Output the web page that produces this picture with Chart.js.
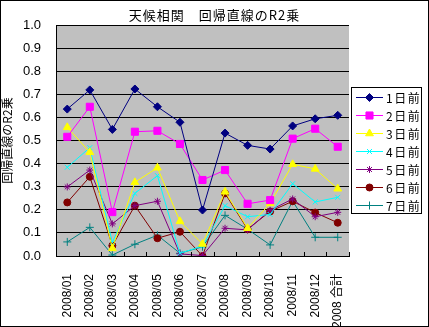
<!DOCTYPE html>
<html>
<head>
<meta charset="utf-8">
<script src="https://cdn.jsdelivr.net/npm/chart.js@4/dist/chart.umd.min.js"></script>
<style>
  body { margin: 0; background: #fff; }
  #wrap { width: 429px; height: 327px; }
</style>
</head>
<body>
<div id="wrap"><canvas id="grafica" width="429" height="327"></canvas></div>
<script>
const titulo = '天候相関　回帰直線のR2乗';
const ejeY = '回帰直線のR2乗';
const meses = ['2008/01','2008/02','2008/03','2008/04','2008/05','2008/06','2008/07',
               '2008/08','2008/09','2008/10','2008/11','2008/12','2008 合計'];
const nombres = ['1日前','2日前','3日前','4日前','5日前','6日前','7日前'];

const dia1 = [0.636,0.719,0.548,0.723,0.646,0.579,0.199,0.532,0.479,0.463,0.563,0.594,0.609];
const dia2 = [0.516,0.646,0.190,0.538,0.542,0.485,0.329,0.372,0.226,0.242,0.508,0.551,0.473];
const dia3 = [0.557,0.449,0.033,0.319,0.382,0.150,0.052,0.278,0.120,0.228,0.397,0.377,0.291];
const dia4 = [0.384,0.469,0.059,0.271,0.348,0.012,0.043,0.218,0.170,0.180,0.313,0.234,0.254];
const dia5 = [0.299,0.372,0.139,0.218,0.237,0.009,0.002,0.120,0.113,0.198,0.247,0.170,0.189];
const dia6 = [0.232,0.343,0.045,0.218,0.077,0.105,0.000,0.271,0.116,0.193,0.237,0.188,0.144];
const dia7 = [0.061,0.124,0.004,0.051,0.090,0.012,0.040,0.176,0.116,0.048,0.238,0.081,0.081];

const colores = ['#000080','#FF00FF','#FFFF00','#00FFFF','#800080','#800000','#008080'];
const marcas = ['rectRot','rect','triangle','crossRot','star','circle','cross'];
const tamanos = [4, 5, 4.5, 3.5, 3.5, 3.5, 4];
const series = [dia1, dia2, dia3, dia4, dia5, dia6, dia7];

const fuente = "'Noto Sans CJK JP', 'DejaVu Sans', sans-serif";

const datasets = series.map((d, i) => ({
  label: nombres[i],
  data: d,
  borderColor: colores[i],
  backgroundColor: colores[i],
  borderWidth: 1,
  pointStyle: marcas[i],
  pointRadius: tamanos[i],
  pointBorderWidth: 1,
  pointBorderColor: colores[i],
  pointBackgroundColor: colores[i],
  tension: 0
}));

// fondo gris, marcas del eje x, titulo, leyenda y borde exterior
const extras = {
  id: 'extras',
  beforeDraw(chart) {
    const c = chart.ctx, a = chart.chartArea;
    c.save();
    c.fillStyle = '#fff';
    c.fillRect(0, 0, chart.width, chart.height);
    c.fillStyle = '#C0C0C0';
    c.fillRect(a.left, a.top, a.right - a.left, a.bottom - a.top);
    c.restore();
  },
  afterDraw(chart) {
    const c = chart.ctx, a = chart.chartArea;
    c.save();
    // marcas entre categorias
    c.strokeStyle = '#000';
    c.lineWidth = 1;
    const w = (a.right - a.left) / meses.length;
    for (let i = 1; i <= meses.length; i++) {
      const px = Math.round(a.left + i * w) + 0.5;
      c.beginPath();
      c.moveTo(px, a.bottom);
      c.lineTo(px, a.bottom - 4);
      c.stroke();
    }
    // titulo
    c.fillStyle = '#000';
    c.font = '13px ' + fuente;
    c.letterSpacing = '1px';
    c.textAlign = 'center';
    c.textBaseline = 'middle';
    c.fillText(titulo, chart.width / 2, 15);
    // leyenda
    const lx = 351, ly = 87, lw = 70, lh = 126;
    c.fillStyle = '#fff';
    c.fillRect(lx, ly, lw, lh);
    c.strokeStyle = '#000';
    c.strokeRect(lx + 0.5, ly + 0.5, lw, lh);
    c.font = '12px ' + fuente;
    c.letterSpacing = '1.5px';
    c.textAlign = 'left';
    datasets.forEach((ds, i) => {
      const yy = ly + 10.5 + i * 18;
      c.strokeStyle = ds.borderColor;
      c.fillStyle = ds.borderColor;
      c.beginPath();
      c.moveTo(356, yy);
      c.lineTo(383, yy);
      c.stroke();
      Chart.helpers.drawPoint(c, {pointStyle: ds.pointStyle, radius: ds.pointRadius, rotation: 0, borderWidth: 1}, 369.5, yy);
      c.fillStyle = '#000';
      c.fillText(ds.label, 386, yy + 1);
    });
    // borde exterior
    c.letterSpacing = '0px';
    c.strokeStyle = '#000';
    c.strokeRect(0.5, 0.5, chart.width - 1, chart.height - 1);
    c.restore();
  }
};

const config = {
  type: 'line',
  data: { labels: meses, datasets: datasets },
  options: {
    responsive: false,
    animation: false,
    layout: { padding: { left: 0, right: 80, top: 25, bottom: 0 } },
    plugins: {
      legend: { display: false },
      title: { display: false },
      tooltip: { enabled: false }
    },
    scales: {
      x: {
        offset: true,
        grid: { display: false },
        border: { display: true, color: '#000', width: 1 },
        ticks: {
          color: '#000',
          font: { family: "'Liberation Sans', Arial, " + fuente, size: 12 },
          minRotation: 90,
          maxRotation: 90,
          autoSkip: false,
          padding: 10
        },
        afterFit(s) { s.height = 71; }
      },
      y: {
        min: 0,
        max: 1,
        grid: { color: '#000', lineWidth: 1, drawTicks: false },
        border: { display: true, color: '#000', width: 1 },
        ticks: {
          stepSize: 0.1,
          color: '#000',
          font: { family: "'Liberation Sans', Arial, sans-serif", size: 13 },
          padding: 15,
          callback: v => v.toFixed(1)
        },
        title: {
          display: true,
          text: ejeY,
          color: '#000',
          font: { family: fuente, size: 12 },
          padding: { top: 0, bottom: 6 }
        },
        afterFit(s) { s.width = 56; }
      }
    }
  },
  plugins: [extras]
};

const ctx = document.getElementById('grafica');
const migrafica = new Chart(ctx, config);
</script>
</body>
</html>
